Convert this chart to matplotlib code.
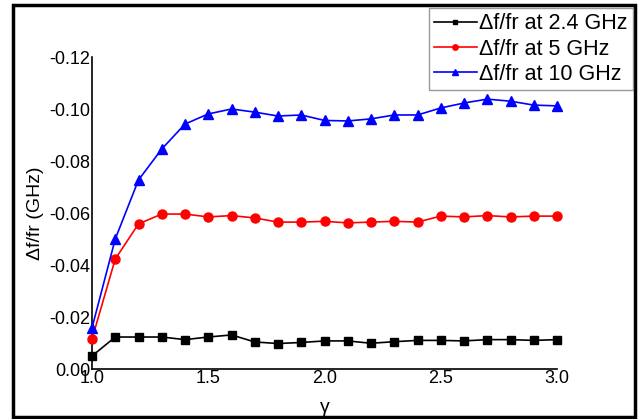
import matplotlib.pyplot as plt
from matplotlib.patches import Rectangle
from matplotlib.ticker import FormatStrFormatter

plt.rcParams['font.family'] = ['Liberation Sans', 'DejaVu Sans']
plt.rcParams['axes.unicode_minus'] = False

gamma = [1.0, 1.1, 1.2, 1.3, 1.4, 1.5, 1.6, 1.7, 1.8, 1.9, 2.0,
         2.1, 2.2, 2.3, 2.4, 2.5, 2.6, 2.7, 2.8, 2.9, 3.0]

df_2_4 = [-0.0050, -0.0123, -0.0123, -0.0123, -0.0113, -0.0123, -0.0131,
          -0.0104, -0.0098, -0.0102, -0.0108, -0.0108, -0.0099, -0.0105,
          -0.0110, -0.0110, -0.0108, -0.0113, -0.0113, -0.0110, -0.0113]
df_5 = [-0.0115, -0.0423, -0.0558, -0.0596, -0.0596, -0.0585, -0.0590,
        -0.0581, -0.0565, -0.0565, -0.0568, -0.0562, -0.0565, -0.0568,
        -0.0565, -0.0588, -0.0585, -0.0590, -0.0585, -0.0588, -0.0588]
df_10 = [-0.0158, -0.0500, -0.0727, -0.0846, -0.0942, -0.0981, -0.1000,
         -0.0988, -0.0973, -0.0977, -0.0956, -0.0954, -0.0962, -0.0977,
         -0.0977, -0.1004, -0.1023, -0.1038, -0.1030, -0.1015, -0.1012]

y_ticks = [0.00, -0.02, -0.04, -0.06, -0.08, -0.10, -0.12]
x_ticks = [1.0, 1.5, 2.0, 2.5, 3.0]

fig = plt.figure(figsize=(6.41, 4.19), dpi=100)
ax = fig.add_axes([92 / 641, 1 - 369 / 419, (557 - 92) / 641, (369 - 57) / 419])

ax.plot(gamma, df_2_4, color='black', marker='s', markersize=6, lw=1.2,
        label='Δf/fr at 2.4 GHz', clip_on=False, zorder=3)
ax.plot(gamma, df_5, color='red', marker='o', markersize=6.5, lw=1.2,
        label='Δf/fr at 5 GHz', clip_on=False, zorder=3)
ax.plot(gamma, df_10, color='blue', marker='^', markersize=7, lw=1.2,
        label='Δf/fr at 10 GHz', clip_on=False, zorder=3)

ax.set_xlim(1.0, 3.0)
ax.set_ylim(0.0, -0.12)
ax.set_xticks(x_ticks)
ax.set_yticks(y_ticks)
ax.xaxis.set_major_formatter(FormatStrFormatter('%.1f'))
ax.yaxis.set_major_formatter(FormatStrFormatter('%.2f'))
ax.tick_params(length=0, labelsize=13, pad=1)

for side in ['top', 'right']:
    ax.spines[side].set_visible(False)
for side in ['left', 'bottom']:
    ax.spines[side].set_linewidth(1.2)

ax.set_xlabel('γ', fontsize=14, labelpad=8)
ax.set_ylabel('Δf/fr (GHz)', fontsize=14, labelpad=4)

fig.legend(loc='upper right', bbox_to_anchor=(633 / 641, 1 - 8 / 419),
           bbox_transform=fig.transFigure, fontsize=15.5, frameon=True,
           fancybox=False, edgecolor='gray', borderaxespad=0,
           handlelength=2.0, handletextpad=0.1, labelspacing=0.2,
           borderpad=0.25, markerscale=0.6)

# border around the whole figure
fig.patches.append(Rectangle((13 / 641, 2 / 419), 622 / 641, 412 / 419,
                             transform=fig.transFigure, fill=False,
                             edgecolor='black', lw=2.5))

fig.savefig('out.png', dpi=100)
